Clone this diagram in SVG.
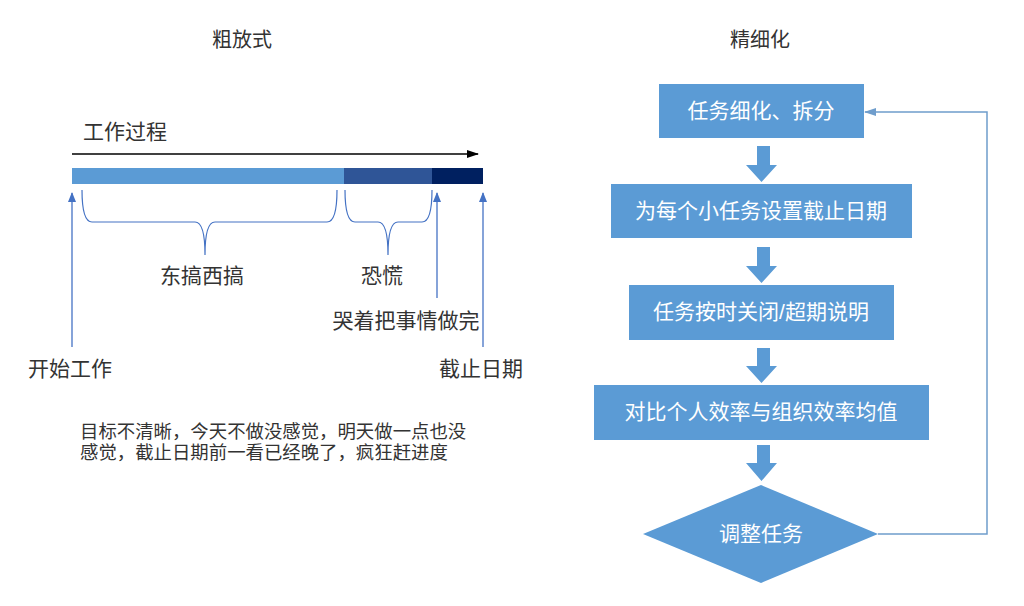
<svg xmlns="http://www.w3.org/2000/svg" width="1024" height="606" viewBox="0 0 1024 606">
<style>
.t{font-family:"Liberation Sans","Noto Sans CJK SC",sans-serif;fill:#333;font-size:21px}
.w{font-family:"Liberation Sans","Noto Sans CJK SC",sans-serif;fill:#fff;font-size:21px;text-anchor:middle}
.box{fill:#5B9BD5}
.up{stroke:#4472C4;stroke-width:1.3;fill:none}
.br{stroke:#4472C4;stroke-width:1.2;fill:none}
</style>
<defs>
<marker id="ah" markerWidth="10" markerHeight="10" refX="9" refY="5" orient="auto" markerUnits="userSpaceOnUse"><path d="M0,1 L10,5 L0,9 Z" fill="#4472C4"/></marker>
<marker id="ak" markerWidth="12" markerHeight="10" refX="11" refY="5" orient="auto" markerUnits="userSpaceOnUse"><path d="M0,1 L12,5 L0,9 Z" fill="#000"/></marker>
<marker id="af" markerWidth="12" markerHeight="10" refX="11" refY="5" orient="auto" markerUnits="userSpaceOnUse"><path d="M0,1 L12,5 L0,9 Z" fill="#6F9DCC"/></marker>
</defs>
<rect width="1024" height="606" fill="#fff"/>

<g id="left">
<text class="t" x="242" y="47" text-anchor="middle" style="font-size:20px">粗放式</text>
<text class="t" x="83" y="139">工作过程</text>
<line x1="72" y1="154" x2="478" y2="154" stroke="#000" stroke-width="1.5" marker-end="url(#ak)"/>
<rect x="72" y="168" width="272" height="16" fill="#5B9BD5"/>
<rect x="344" y="168" width="88" height="16" fill="#2F5597"/>
<rect x="432" y="168" width="51" height="16" fill="#002060"/>
<path class="br" d="M82,190 Q82,222 92,222 L195,222 Q205,222 205,255 Q205,222 215,222 L327,222 Q337,222 337,190"/>
<path class="br" d="M345,190 Q345,222 355,222 L378,222 Q388,222 388,255 Q388,222 398,222 L422,222 Q432,222 432,190"/>
<line class="up" x1="72" y1="347" x2="72" y2="193" marker-end="url(#ah)"/>
<line class="up" x1="437" y1="298" x2="437" y2="193" marker-end="url(#ah)"/>
<line class="up" x1="483" y1="347" x2="483" y2="193" marker-end="url(#ah)"/>
<text class="t" x="202" y="283" text-anchor="middle">东搞西搞</text>
<text class="t" x="382" y="283" text-anchor="middle">恐慌</text>
<text class="t" x="406" y="328" text-anchor="middle">哭着把事情做完</text>
<text class="t" x="70" y="376" text-anchor="middle">开始工作</text>
<text class="t" x="481" y="376" text-anchor="middle">截止日期</text>
<text class="t" x="80" y="438" style="font-size:18.4px">目标不清晰，今天不做没感觉，明天做一点也没</text>
<text class="t" x="80" y="459" style="font-size:18.4px">感觉，截止日期前一看已经晚了，疯狂赶进度</text>
</g>

<text class="t" x="760" y="47" text-anchor="middle" style="font-size:20px">精细化</text>

<g id="n1"><rect class="box" x="659" y="84" width="205" height="54"/><text class="w" x="761" y="118">任务细化、拆分</text></g>
<g id="n2"><rect class="box" x="611" y="184" width="301" height="54"/><text class="w" x="761" y="218">为每个小任务设置截止日期</text></g>
<g id="n3"><rect class="box" x="629" y="285" width="265" height="55"/><text class="w" x="761" y="319">任务按时关闭/超期说明</text></g>
<g id="n4"><rect class="box" x="594" y="385" width="335" height="55"/><text class="w" x="761" y="419">对比个人效率与组织效率均值</text></g>
<g id="n5"><polygon class="box" points="761,485 878,534 761,583 643,534"/><text class="w" x="761" y="541">调整任务</text></g>

<g id="connectors">
<polygon class="box" points="757,146 770,146 770,165 777,165 761.5,182 746,165 757,165"/>
<polygon class="box" points="757,247 770,247 770,266 777,266 761.5,283 746,266 757,266"/>
<polygon class="box" points="757,348 770,348 770,366 777,366 761.5,383 746,366 757,366"/>
<polygon class="box" points="757,445 770,445 770,463 777,463 761.5,481 746,463 757,463"/>
<path d="M878,534 L987,534 L987,112 L865,112" fill="none" stroke="#6F9DCC" stroke-width="1.5" marker-end="url(#af)"/>
</g>
</svg>
